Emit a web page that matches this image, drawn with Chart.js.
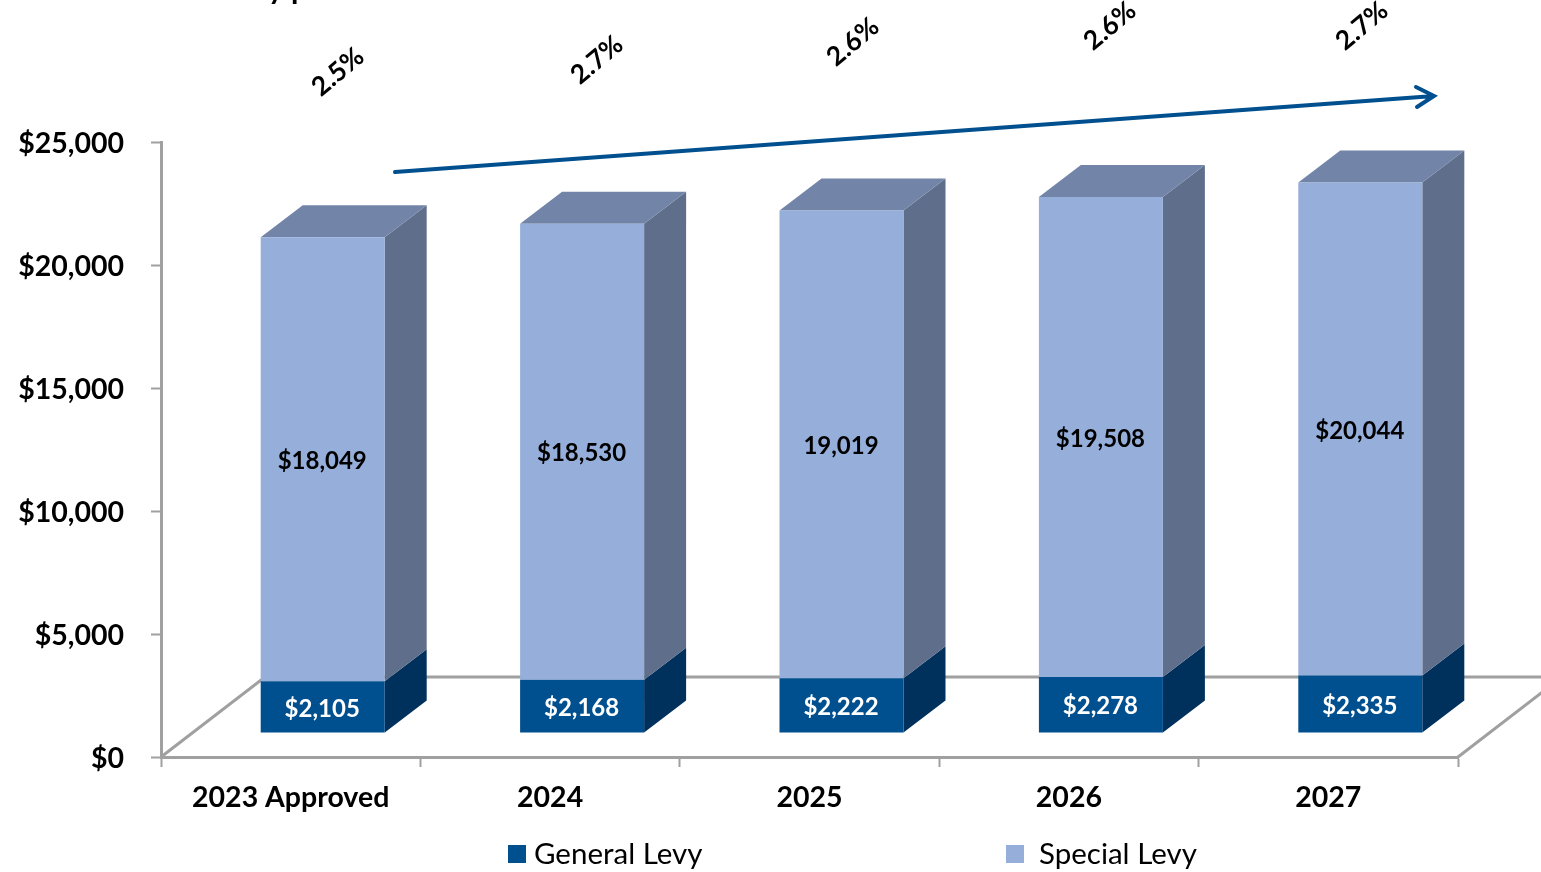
<!DOCTYPE html>
<html>
<head>
<meta charset="utf-8">
<title>General and Special Levy</title>
<script src="https://cdn.jsdelivr.net/npm/chart.js@4"></script>
<style>
    html, body { margin: 0; background: #fff; overflow: hidden; }
    canvas { display: block; }
</style>
</head>
<body>
<canvas id="levyChart" width="1541" height="872"></canvas>
<script>
const categories = ['2023 Approved', '2024', '2025', '2026', '2027'];
const generalLevy = [2105, 2168, 2222, 2278, 2335];
const specialLevy = [18049, 18530, 19019, 19508, 20044];
const generalLabels = ['$2,105', '$2,168', '$2,222', '$2,278', '$2,335'];
const specialLabels = ['$18,049', '$18,530', '19,019', '$19,508', '$20,044'];
const growthLabels = ['2.5%', '2.7%', '2.6%', '2.6%', '2.7%'];
const tickValues = [0, 5000, 10000, 15000, 20000, 25000];
const tickLabels = ['$0', '$5,000', '$10,000', '$15,000', '$20,000', '$25,000'];
const seriesNames = ['General Levy', 'Special Levy'];

const FONT = 'Lato, Carlito, sans-serif';
const GENERAL = { front: '#004F8E', side: '#00305C' };
const SPECIAL = { front: '#95AEDA', side: '#5F6F8B', top: '#7284A7' };
const AXIS = '#A0A0A0';

// the bars sit inside the 3d floor, moved from the axis plane by this much
const shiftX = 32, shiftY = -24;
const depthX = 42, depthY = -32;
const floorX = 104, floorY = -80;

// where the growth labels and the arrow go, in page pixels
const growthSpots = [[338, 72], [597, 60], [853, 42], [1110, 26], [1362, 26]];
const arrowFrom = [395, 172], arrowTo = [1434, 96];

function poly(ctx, color, pts) {
    ctx.fillStyle = color;
    ctx.beginPath();
    pts.forEach((p, i) => i ? ctx.lineTo(p[0], p[1]) : ctx.moveTo(p[0], p[1]));
    ctx.closePath();
    ctx.fill();
}

const threeD = {
    id: 'threeD',
    beforeDraw(chart) {
        // Lato sits a bit high next to the reference font
        chart.scales.y.getLabelItems(chart.chartArea).forEach(item => { item.textOffset = 2; });
    },
    beforeDatasetsDraw(chart) {
        const { ctx, chartArea: a } = chart;
        // floor outline
        ctx.save();
        ctx.strokeStyle = AXIS;
        ctx.lineWidth = 3;
        ctx.beginPath();
        ctx.moveTo(a.left, a.bottom);
        ctx.lineTo(a.left + floorX, a.bottom + floorY);
        ctx.lineTo(a.right + floorX, a.bottom + floorY);
        ctx.lineTo(a.right, a.bottom);
        ctx.stroke();
        ctx.restore();

        ctx.save();
        ctx.translate(shiftX, shiftY);
        const low = chart.getDatasetMeta(0).data;
        const high = chart.getDatasetMeta(1).data;
        low.forEach((bar, i) => {
            const right = bar.x + bar.width / 2;
            poly(ctx, GENERAL.side, [[right, bar.base], [right + depthX, bar.base + depthY], [right + depthX, bar.y + depthY], [right, bar.y]]);
            const up = high[i];
            const upLeft = up.x - up.width / 2, upRight = up.x + up.width / 2;
            poly(ctx, SPECIAL.side, [[upRight, up.base], [upRight + depthX, up.base + depthY], [upRight + depthX, up.y + depthY], [upRight, up.y]]);
            poly(ctx, SPECIAL.top, [[upLeft, up.y], [upLeft + depthX, up.y + depthY], [upRight + depthX, up.y + depthY], [upRight, up.y]]);
        });
        // front faces are drawn by chart.js, still inside this translate
    },
    afterDatasetsDraw(chart) {
        const { ctx } = chart;
        ctx.textAlign = 'center';
        ctx.textBaseline = 'middle';
        ctx.font = 'bold 24px ' + FONT;
        chart.getDatasetMeta(0).data.forEach((bar, i) => {
            ctx.fillStyle = '#fff';
            ctx.fillText(generalLabels[i], bar.x - 0.5, (bar.y + bar.base) / 2 + 2);
        });
        chart.getDatasetMeta(1).data.forEach((bar, i) => {
            ctx.fillStyle = '#000';
            ctx.fillText(specialLabels[i], bar.x - 0.5, (bar.y + bar.base) / 2 + 2);
        });
        ctx.restore();
    },
    afterDraw(chart) {
        const { ctx } = chart;
        ctx.save();

        // cut off title at the very top of the picture
        ctx.fillStyle = '#000';
        ctx.font = 'bold 30px ' + FONT;
        ctx.textAlign = 'left';
        ctx.textBaseline = 'alphabetic';
        ctx.fillText('y p', 268, -1);

        // growth labels
        ctx.font = 'bold 26.5px ' + FONT;
        ctx.textAlign = 'center';
        ctx.textBaseline = 'middle';
        growthLabels.forEach((label, i) => {
            ctx.save();
            ctx.translate(growthSpots[i][0], growthSpots[i][1]);
            ctx.rotate(-40 * Math.PI / 180);
            ctx.fillText(label, 0, 0);
            ctx.restore();
        });

        // arrow
        ctx.strokeStyle = GENERAL.front;
        ctx.lineWidth = 4;
        ctx.lineCap = 'round';
        ctx.beginPath();
        ctx.moveTo(arrowFrom[0], arrowFrom[1]);
        ctx.lineTo(arrowTo[0], arrowTo[1]);
        ctx.moveTo(arrowTo[0] - 18, arrowTo[1] - 9);
        ctx.lineTo(arrowTo[0], arrowTo[1]);
        ctx.lineTo(arrowTo[0] - 17, arrowTo[1] + 11);
        ctx.stroke();

        // legend
        ctx.textBaseline = 'middle';
        ctx.textAlign = 'left';
        ctx.font = '29.5px ' + FONT;
        const colors = [GENERAL.front, SPECIAL.front];
        const boxes = [508, 1006], texts = [534, 1039];
        seriesNames.forEach((name, i) => {
            ctx.fillStyle = colors[i];
            ctx.fillRect(boxes[i], 845, 18, 18);
            ctx.fillStyle = '#000';
            ctx.fillText(name, texts[i], 854);
        });
        ctx.restore();
    }
};

new Chart(document.getElementById('levyChart'), {
    type: 'bar',
    data: {
        labels: categories,
        datasets: [
            { label: seriesNames[0], data: generalLevy, backgroundColor: GENERAL.front, clip: false },
            { label: seriesNames[1], data: specialLevy, backgroundColor: SPECIAL.front, clip: false }
        ]
    },
    plugins: [threeD],
    options: {
        responsive: false,
        animation: false,
        layout: { padding: { top: 142, right: 83, bottom: 0, left: 0 } },
        plugins: { legend: { display: false }, tooltip: { enabled: false } },
        datasets: { bar: { categoryPercentage: 0.478, barPercentage: 1 } },
        scales: {
            x: {
                stacked: true,
                afterFit(scale) { scale.height = 115; },
                border: { color: AXIS, width: 3 },
                grid: { drawOnChartArea: false, color: AXIS, tickLength: 10, tickWidth: 2 },
                ticks: {
                    color: '#000', padding: 14, maxRotation: 0,
                    font: { family: FONT, weight: 'bold', size: 28.5 }
                }
            },
            y: {
                stacked: true,
                min: 0,
                max: 25000,
                afterFit(scale) { scale.width = 161; },
                afterBuildTicks(scale) { scale.ticks = tickValues.map(v => ({ value: v })); },
                border: { color: AXIS, width: 3 },
                grid: { drawOnChartArea: false, color: AXIS, tickLength: 10, tickWidth: 2 },
                ticks: {
                    color: '#000', padding: 27,
                    font: { family: FONT, weight: 'bold', size: 28.5 },
                    callback(value) { return tickLabels[tickValues.indexOf(value)]; }
                }
            }
        }
    }
});
</script>
</body>
</html>
